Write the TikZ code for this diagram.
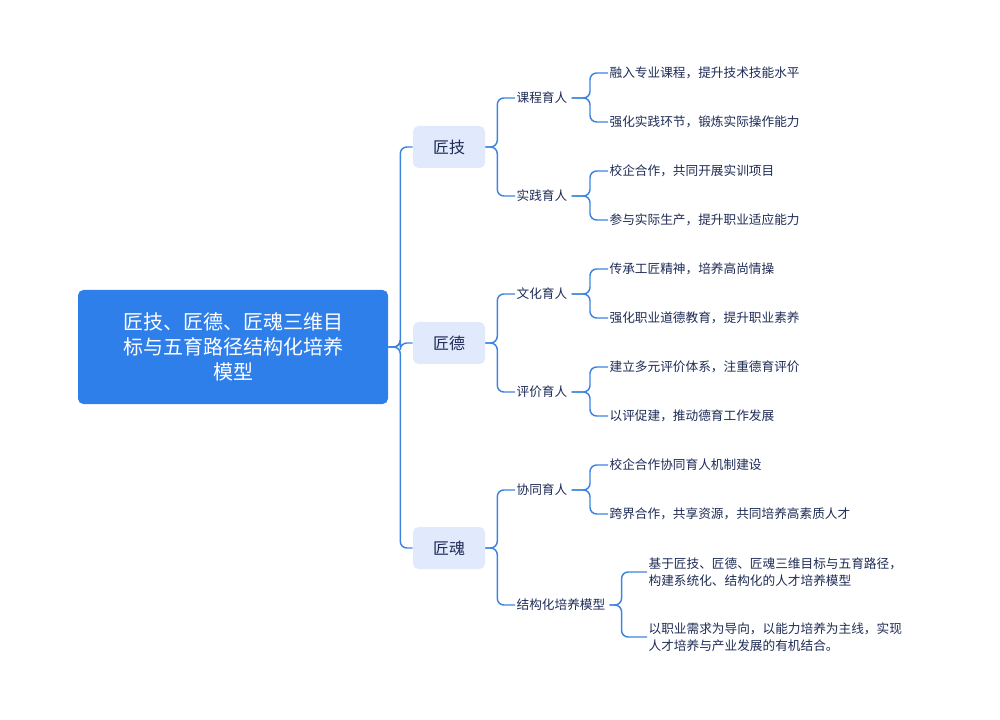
\documentclass[tikz,border=0pt]{standalone}
\usepackage{fontspec}
\setmainfont{Noto Sans CJK SC}
\usetikzlibrary{positioning}
\definecolor{linkblue}{HTML}{3D84E0}
\definecolor{rootblue}{HTML}{2F7FEA}
\definecolor{boxblue}{HTML}{E1E9FC}
\definecolor{inkblue}{HTML}{1E2B55}
\tikzset{
  root/.style={fill=rootblue, rounded corners=4pt, text=white, minimum width=232.5pt, minimum height=85.5pt, align=center, font=\fontsize{15}{19}\selectfont},
  topic/.style={fill=boxblue, rounded corners=4pt, text=inkblue, minimum width=54pt, minimum height=31.5pt, font=\fontsize{12}{14}\selectfont},
  sub/.style={text=inkblue, inner sep=1pt, anchor=west, font=\fontsize{9.5}{12}\selectfont},
  leaf/.style={text=inkblue, inner sep=1pt, anchor=west, align=left, font=\fontsize{9.5}{13}\selectfont},
  link/.style={draw=linkblue, line width=1.1pt, rounded corners=5pt}
}
\begin{document}
\begin{tikzpicture}[x=0.75pt, y=-0.75pt]
\useasboundingbox (0,0) rectangle (1000,720);
% root and topics
\node[root] (root) at (233,347) {匠技、匠德、匠魂三维目\\标与五育路径结构化培养\\模型};
\node[topic] (jj) at (449,147) {匠技};
\node[topic] (jd) at (449,343) {匠德};
\node[topic] (jh) at (449,548) {匠魂};
\foreach \t in {jj,jd,jh}
  \draw[link] (root.east) -- ++(12,0) |- (\t.west);
% second level
\node[sub] (kc) at (515,98) {课程育人};
\node[sub] (sj) at (515,196) {实践育人};
\node[sub] (wh) at (515,294) {文化育人};
\node[sub] (pj) at (515,392) {评价育人};
\node[sub] (xt) at (515,490) {协同育人};
\node[sub] (jg) at (515,605) {结构化培养模型};
\foreach \a/\b in {jj/kc,jj/sj,jd/wh,jd/pj,jh/xt,jh/jg}
  \draw[link] (\a.east) -- ++(12,0) |- (\b.west);
% leaves
\node[leaf] (kc1) at (608,73) {融入专业课程，提升技术技能水平};
\node[leaf] (kc2) at (608,122) {强化实践环节，锻炼实际操作能力};
\node[leaf] (sj1) at (608,171) {校企合作，共同开展实训项目};
\node[leaf] (sj2) at (608,220) {参与实际生产，提升职业适应能力};
\node[leaf] (wh1) at (608,269) {传承工匠精神，培养高尚情操};
\node[leaf] (wh2) at (608,318) {强化职业道德教育，提升职业素养};
\node[leaf] (pj1) at (608,367) {建立多元评价体系，注重德育评价};
\node[leaf] (pj2) at (608,416) {以评促建，推动德育工作发展};
\node[leaf] (xt1) at (608,465) {校企合作协同育人机制建设};
\node[leaf] (xt2) at (608,514) {跨界合作，共享资源，共同培养高素质人才};
\node[leaf] (jg1) at (647,572) {基于匠技、匠德、匠魂三维目标与五育路径，\\构建系统化、结构化的人才培养模型};
\node[leaf] (jg2) at (647,637) {以职业需求为导向，以能力培养为主线，实现\\人才培养与产业发展的有机结合。};
\foreach \a/\b in {kc/kc1,kc/kc2,sj/sj1,sj/sj2,wh/wh1,wh/wh2,pj/pj1,pj/pj2,xt/xt1,xt/xt2}
  \draw[link] ([xshift=2pt]\a.east) -- (\a.east -| 590,0) |- (\b.west);
\foreach \b in {jg1,jg2}
  \draw[link] ([xshift=2pt]jg.east) -- ++(12,0) |- (\b.west);
\end{tikzpicture}
\end{document}
